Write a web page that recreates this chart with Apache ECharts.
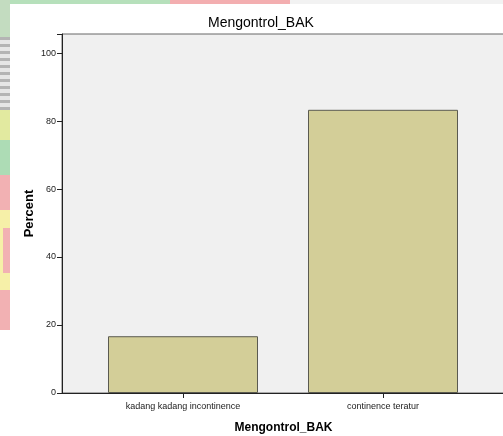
<!DOCTYPE html>
<html>
<head>
<meta charset="utf-8">
<script src="https://cdn.jsdelivr.net/npm/echarts@6/dist/echarts.min.js"></script>
<style>
html,body{margin:0;padding:0;width:503px;height:436px;overflow:hidden;background:#fff;}
#wm{position:absolute;left:0;top:0;width:503px;height:436px;}
#wm div{position:absolute;}
#chart{position:absolute;left:0;top:0;width:503px;height:436px;}
</style>
</head>
<body>
<div id="wm">
  <div style="left:0;top:0;width:170px;height:4px;background:#b6e0bb"></div>
  <div style="left:170px;top:0;width:120px;height:4px;background:#f3aeb0"></div>
  <div style="left:290px;top:0;width:213px;height:4px;background:#f2f2f2"></div>
  <div style="left:0;top:0;width:10px;height:37px;background:#c3dcc0"></div>
  <div style="left:0;top:37px;width:10px;height:73px;background:repeating-linear-gradient(#b4b4b4 0 3px,#e6e6e6 3px 7px)"></div>
  <div style="left:0;top:110px;width:10px;height:30px;background:#e2eaa0"></div>
  <div style="left:0;top:140px;width:10px;height:35px;background:#addcb5"></div>
  <div style="left:0;top:175px;width:10px;height:35px;background:#f2b1b3"></div>
  <div style="left:0;top:210px;width:10px;height:80px;background:#f6f0a8"></div>
  <div style="left:3px;top:228px;width:7px;height:45px;background:#f2b1b3"></div>
  <div style="left:0;top:290px;width:10px;height:40px;background:#f2b1b3"></div>
  <div style="left:10px;top:4px;width:493px;height:432px;background:#fff"></div>
</div>
<div id="chart"></div>
<script>
var titleText = 'Mengontrol_BAK';
var xAxisTitle = 'Mengontrol_BAK';
var yAxisTitle = 'Percent';
var categories = ['kadang kadang incontinence', 'continence teratur'];
var percents = [16.7, 83.3];
var yTicks = [0, 20, 40, 60, 80, 100];

var yMax = 105.6;
var chart = echarts.init(document.getElementById('chart'));
var font = 'Liberation Sans, Arial, sans-serif';
chart.setOption({
  animation: false,
  backgroundColor: 'transparent',
  title: {
    text: titleText, left: 208, top: 16, padding: 0,
    textStyle: {fontFamily: font, fontSize: 14, fontWeight: 'normal', color: '#000'}
  },
  grid: [
    {left: 62, right: -2, top: 34, bottom: 43, show: true, backgroundColor: '#f0f0f0', borderColor: '#666', borderWidth: 1, outerBoundsMode: 'none', containLabel: false},
    {left: 83, right: 20, top: 34, bottom: 43, outerBoundsMode: 'none', containLabel: false}
  ],
  xAxis: [
    {
      gridIndex: 0, type: 'category', data: [''],
      name: xAxisTitle, nameLocation: 'middle', nameGap: 29,
      nameTextStyle: {fontFamily: font, fontSize: 12, fontWeight: 'bold', color: '#000'},
      axisLine: {show: true, lineStyle: {color: '#222', width: 1}},
      axisTick: {show: false}, axisLabel: {show: false}, splitLine: {show: false}
    },
    {
      gridIndex: 1, type: 'category', data: categories,
      axisLine: {show: false},
      axisTick: {show: true, alignWithLabel: true, length: 5, lineStyle: {color: '#222'}},
      axisLabel: {fontFamily: font, fontSize: 9, color: '#222', margin: 9},
      splitLine: {show: false}
    }
  ],
  yAxis: [
    {
      gridIndex: 0, type: 'value', min: 0, max: yMax, interval: 20,
      name: yAxisTitle, nameLocation: 'middle', nameGap: 26, nameMoveOverlap: false,
      nameTextStyle: {fontFamily: font, fontSize: 13, fontWeight: 'bold', color: '#000'},
      axisLine: {show: true, lineStyle: {color: '#222', width: 1}},
      axisTick: {show: true, length: 5, lineStyle: {color: '#222'}},
      axisLabel: {
        fontFamily: font, fontSize: 9, color: '#222', margin: 6,
        formatter: function (v) { return yTicks.indexOf(v) >= 0 ? String(v) : ''; }
      },
      splitLine: {show: false}
    },
    {
      gridIndex: 1, type: 'value', min: 0, max: yMax, interval: 20, show: false
    }
  ],
  series: [{
    type: 'bar', xAxisIndex: 1, yAxisIndex: 1,
    data: percents, barWidth: 150,
    itemStyle: {color: '#d3ce98', borderColor: '#5a5a50', borderWidth: 1}
  }]
});
</script>
</body>
</html>
